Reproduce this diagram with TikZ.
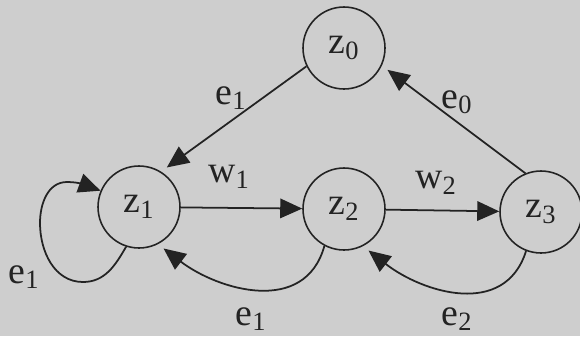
\documentclass[tikz,border=0pt]{standalone}
\usepackage{fontspec}
\setmainfont{Liberation Serif}
\newfontfamily\labelfont{Liberation Serif}
\usepackage{tikz}
\usetikzlibrary{arrows.meta}
\definecolor{paper}{RGB}{206,206,206}
\definecolor{ink}{RGB}{35,35,35}
\tikzset{
  zstate/.style={circle, draw=ink, line width=0.9pt, minimum size=1.64cm,
    inner sep=0pt, font=\labelfont\fontsize{21.5}{26}\selectfont, text=ink},
  lbl/.style={font=\labelfont\fontsize{21.5}{26}\selectfont, text=ink, inner sep=0pt},
  arrow/.style={-{Triangle[length=4.4mm, width=3.9mm]}, line width=1pt, draw=ink},
  gaparrow/.style={arrow, shorten >=0.14cm}
}

\begin{document}
\begin{tikzpicture}[x=0.02cm, y=0.02cm]
  % page
  \fill[paper] (0,0) rectangle (580,336);
  \useasboundingbox (0,0) rectangle (580,336);

  % states
  \node[zstate] (z0) at (344,288) {z\textsubscript{0}};
  \node[zstate] (z1) at (139,129) {z\textsubscript{1}};
  \node[zstate] (z2) at (344,127) {z\textsubscript{2}};
  \node[zstate] (z3) at (541,124) {z\textsubscript{3}};

  % forward transitions
  \draw[arrow] (z1) -- (z2);
  \draw[arrow] (z2) -- (z3);
  \node[lbl] (w1) at (229,159) {w\textsubscript{1}};
  \node[lbl] (w2) at (436,153) {w\textsubscript{2}};

  % via z0
  \draw[gaparrow] (z0.206) -- (z1.58);
  \draw[gaparrow] (z3.112) -- (z0.335);
  \node[lbl] (e1a) at (231,238) {e\textsubscript{1}};
  \node[lbl] (e0) at (457,234) {e\textsubscript{0}};

  % self loop on z1
  \draw[arrow] (z1.252) to[out=240, in=0] (83,54) to[out=180, in=270] (40,113)
    to[out=90, in=180] (67,154) to[out=0, in=160] (z1.157);
  \node[lbl] (e1b) at (24,59) {e\textsubscript{1}};

  % back transitions
  \draw[gaparrow] (z2.242) .. controls (305,20) and (218,46) .. (z1.297);
  \draw[gaparrow] (z3.249) .. controls (505,18) and (423,43) .. (z2.297);
  \node[lbl] (e1c) at (251,17) {e\textsubscript{1}};
  \node[lbl] (e2) at (457,17) {e\textsubscript{2}};
\end{tikzpicture}
\end{document}
